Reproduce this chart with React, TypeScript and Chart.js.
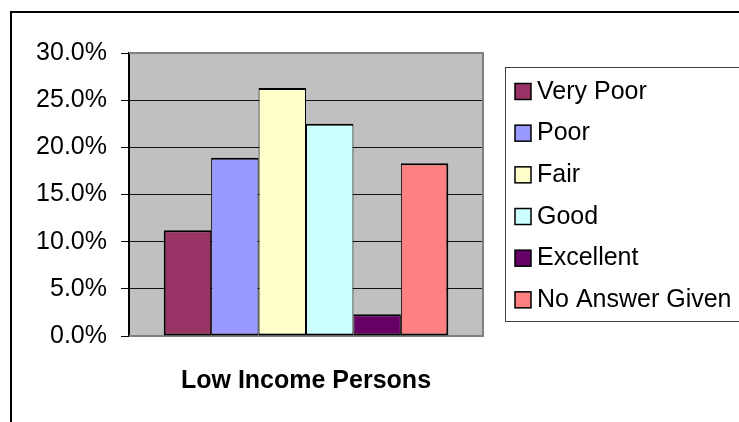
import React, { useEffect, useRef } from "react";
import { Chart, registerables } from "chart.js";

Chart.register(...registerables);

const categories = ["Low Income Persons"];
const seriesNames = ["Very Poor", "Poor", "Fair", "Good", "Excellent", "No Answer Given"];
const seriesValues = [11.2, 18.9, 26.3, 22.5, 2.3, 18.3];
const seriesColors = ["#993366", "#9999FF", "#FFFFCC", "#CCFFFF", "#660066", "#FF8080"];
const yMin = 0;
const yMax = 30;
const yStep = 5;

const FONT = "'Liberation Sans', Arial, sans-serif";

const framePlugin = {
  id: "frame",
  beforeDraw(chart: any) {
    const { ctx, chartArea: a } = chart;
    ctx.save();
    ctx.fillStyle = "#FFFFFF";
    ctx.fillRect(0, 0, chart.width, chart.height);
    ctx.fillStyle = "#C0C0C0";
    ctx.fillRect(a.left, a.top, a.right - a.left, a.bottom - a.top);
    ctx.restore();
  },
  beforeDatasetsDraw(chart: any) {
    const { ctx, chartArea: a } = chart;
    ctx.save();
    ctx.strokeStyle = "#808080";
    ctx.lineWidth = 2;
    ctx.beginPath();
    ctx.moveTo(a.left, a.top);
    ctx.lineTo(a.right, a.top);
    ctx.lineTo(a.right, a.bottom);
    ctx.lineTo(a.left, a.bottom);
    ctx.stroke();
    ctx.restore();
  },
  afterDraw(chart: any) {
    const { ctx } = chart;
    ctx.save();
    // outer chart border
    ctx.strokeStyle = "#000000";
    ctx.lineWidth = 2;
    ctx.beginPath();
    ctx.moveTo(11, chart.height + 2);
    ctx.lineTo(11, 12);
    ctx.lineTo(chart.width + 2, 12);
    ctx.stroke();

    // legend
    const lx = 505.5;
    const ly = 67.5;
    ctx.fillStyle = "#FFFFFF";
    ctx.strokeStyle = "#404040";
    ctx.lineWidth = 1;
    ctx.fillRect(lx, ly, chart.width - lx + 5, 254);
    ctx.strokeRect(lx, ly, chart.width - lx + 5, 254);
    ctx.font = `25px ${FONT}`;
    ctx.textBaseline = "alphabetic";
    ctx.textAlign = "left";
    chart.data.datasets.forEach((ds: any, i: number) => {
      const base = 98.5 + i * 41.67;
      ctx.fillStyle = ds.backgroundColor;
      ctx.fillRect(515, base - 15, 16, 16);
      ctx.strokeStyle = "#000000";
      ctx.lineWidth = 1.5;
      ctx.strokeRect(515, base - 15, 16, 16);
      ctx.fillStyle = "#000000";
      ctx.fillText(ds.label, 537, base);
    });
    ctx.restore();
  },
};

export default function App() {
  const ref = useRef<HTMLCanvasElement | null>(null);
  useEffect(() => {
    if (!ref.current) return;
    const n = seriesValues.length;
    const chart = new Chart(ref.current, {
      type: "bar",
      data: {
        labels: categories,
        datasets: seriesNames.map((name, i) => ({
          label: name,
          data: [seriesValues[i]],
          backgroundColor: seriesColors[i],
          borderColor: "#000000",
          borderWidth: { top: 2, bottom: 2, left: i === 0 ? 2 : 1, right: i === n - 1 ? 2 : 1 },
          borderSkipped: false,
          barPercentage: 1,
          categoryPercentage: 0.804,
        })),
      },
      options: {
        animation: false,
        responsive: false,
        devicePixelRatio: 1,
        layout: { padding: { left: 0, top: 53, right: 256, bottom: 0 } },
        plugins: {
          legend: { display: false },
          tooltip: { enabled: false },
          title: { display: false },
        },
        scales: {
          x: {
            grid: { display: false },
            border: { display: false },
            ticks: {
              color: "#000000",
              font: { family: FONT, size: 25, weight: "bold" },
              padding: 22,
            },
            afterFit(scale: any) {
              scale.height = 86;
            },
          },
          y: {
            min: yMin,
            max: yMax,
            ticks: {
              stepSize: yStep,
              color: "#000000",
              font: { family: FONT, size: 25 },
              padding: 14,
              callback: (v: any) => Number(v).toFixed(1) + "%",
            },
            grid: {
              color: "#111111",
              lineWidth: 1,
              tickLength: 8,
              tickColor: "#000000",
            },
            border: { display: true, color: "#000000", width: 2 },
            afterFit(scale: any) {
              scale.width = 129;
            },
          },
        },
      },
      plugins: [framePlugin],
    });
    return () => chart.destroy();
  }, []);
  return (
    <div style={{ position: "absolute", left: 0, top: 0, width: 739, height: 422 }}>
      <canvas ref={ref} width={739} height={422} style={{ width: 739, height: 422, display: "block" }} />
    </div>
  );
}
